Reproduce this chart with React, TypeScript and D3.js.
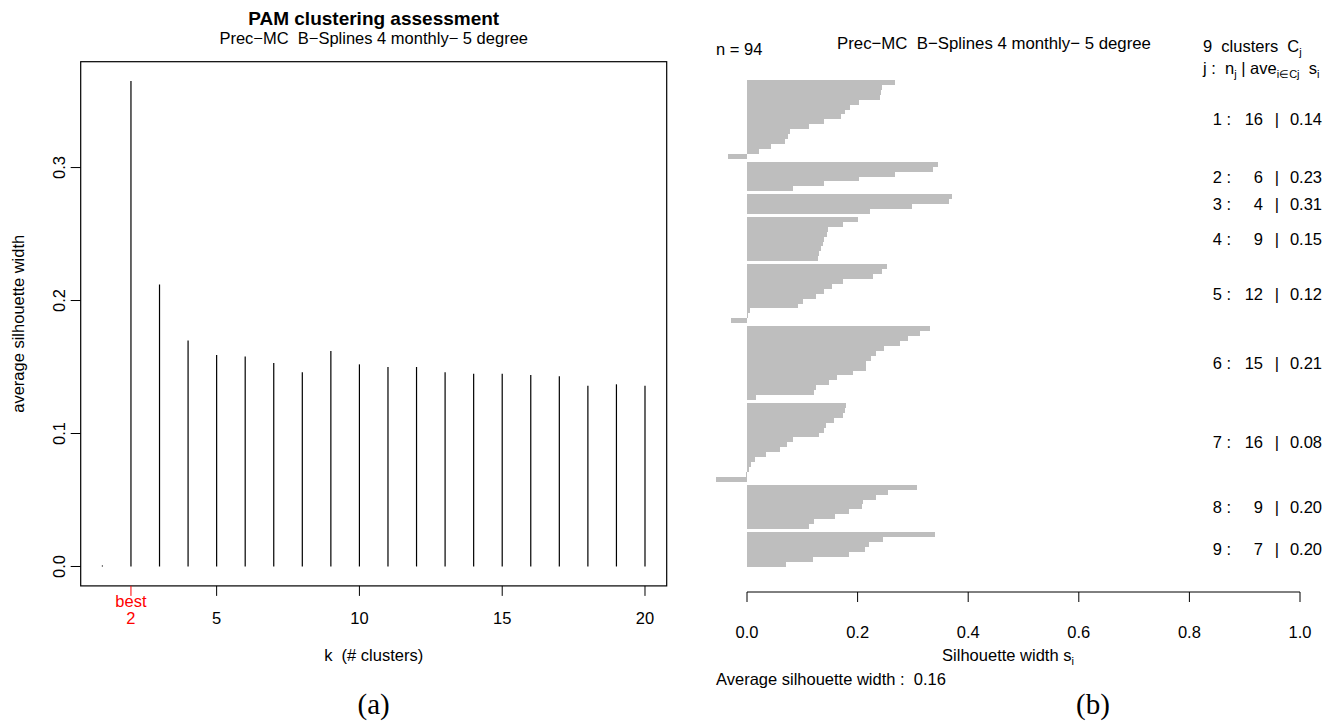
import * as d3 from 'd3';
import React, { useRef, useEffect } from 'react';

// left panel: average silhouette width for k = 1..20
const ks = [1, 2, 3, 4, 5, 6, 7, 8, 9, 10, 11, 12, 13, 14, 15, 16, 17, 18, 19, 20];
const avgWidth = [0, 0.365, 0.212, 0.170, 0.159, 0.158, 0.153, 0.146, 0.162, 0.152,
  0.150, 0.150, 0.146, 0.145, 0.145, 0.144, 0.143, 0.136, 0.137, 0.136];
const bestK = 2;
const kTicks = [5, 10, 15, 20];
const avgTicks = [0, 0.1, 0.2, 0.3];

// right panel: silhouette widths per cluster (sorted, as drawn top to bottom)
const cluster1 = [0.268, 0.244, 0.242, 0.240, 0.202, 0.186, 0.178, 0.170, 0.139, 0.112, 0.078, 0.075, 0.069, 0.043, 0.021, -0.034];
const cluster2 = [0.345, 0.336, 0.267, 0.202, 0.140, 0.084];
const cluster3 = [0.371, 0.365, 0.298, 0.222];
const cluster4 = [0.200, 0.173, 0.146, 0.144, 0.140, 0.137, 0.133, 0.130, 0.129];
const cluster5 = [0.253, 0.245, 0.227, 0.173, 0.154, 0.139, 0.124, 0.101, 0.093, 0.005, 0.002, -0.029];
const cluster6 = [0.331, 0.313, 0.291, 0.277, 0.248, 0.234, 0.224, 0.216, 0.216, 0.192, 0.163, 0.149, 0.124, 0.121, 0.016];
const cluster7 = [0.179, 0.177, 0.173, 0.157, 0.142, 0.139, 0.130, 0.083, 0.072, 0.060, 0.034, 0.015, 0.007, 0.003, -0.002, -0.056];
const cluster8 = [0.307, 0.255, 0.233, 0.209, 0.208, 0.184, 0.159, 0.121, 0.112];
const cluster9 = [0.340, 0.246, 0.221, 0.213, 0.184, 0.119, 0.071];
const silTicks = [0, 0.2, 0.4, 0.6, 0.8, 1.0];

const subtitle = 'Prec\u2212MC  B\u2212Splines 4 monthly\u2212 5 degree';
const FONT = '"Liberation Sans", Arial, Helvetica, sans-serif';
const SERIF = '"Liberation Serif", "Times New Roman", serif';

function App() {
  const ref = useRef(null);

  useEffect(() => {
    document.body.style.margin = '0';
    draw();
  }, []);

  const draw = () => {
    const svg = d3.select(ref.current);
    svg.selectAll('*').remove();
    const fs = 16.5;

    // ---------- (a) ----------
    const x = d3.scaleLinear().domain([0.24, 20.76]).range([80.7, 666.7]);
    const y = d3.scaleLinear().domain([-0.0146, 0.3796]).range([585.9, 61.7]);
    const left = svg.append('g');

    left.append('rect')
      .attr('x', x.range()[0]).attr('y', y.range()[1])
      .attr('width', x.range()[1] - x.range()[0])
      .attr('height', y.range()[0] - y.range()[1])
      .attr('fill', 'none').attr('stroke', '#000').attr('stroke-width', 1.2);

    left.selectAll('.h')
      .data(ks)
      .enter()
      .append('line')
      .attr('x1', (d) => x(d)).attr('x2', (d) => x(d))
      .attr('y1', y(0))
      .attr('y2', (d, i) => avgWidth[i] === 0 ? y(0) - 1 : y(avgWidth[i]))
      .attr('stroke', '#000').attr('stroke-width', 1.2);

    // y axis
    avgTicks.forEach((t) => {
      left.append('line').attr('x1', x.range()[0]).attr('x2', x.range()[0] - 10)
        .attr('y1', y(t)).attr('y2', y(t)).attr('stroke', '#000');
      left.append('text').attr('transform', `translate(65, ${y(t)}) rotate(-90)`)
        .attr('text-anchor', 'middle').attr('font-size', fs).text(d3.format('.1f')(t));
    });
    left.append('text').attr('transform', `translate(24, ${(y.range()[0] + y.range()[1]) / 2}) rotate(-90)`)
      .attr('text-anchor', 'middle').attr('font-size', fs).text('average silhouette width');

    // x axis
    kTicks.forEach((t) => {
      left.append('line').attr('x1', x(t)).attr('x2', x(t))
        .attr('y1', y.range()[0]).attr('y2', y.range()[0] + 10).attr('stroke', '#000');
      left.append('text').attr('x', x(t)).attr('y', 624)
        .attr('text-anchor', 'middle').attr('font-size', fs).text(t);
    });
    left.append('line').attr('x1', x(bestK)).attr('x2', x(bestK))
      .attr('y1', y.range()[0]).attr('y2', y.range()[0] + 10).attr('stroke', '#ff0000');
    left.append('text').attr('x', x(bestK)).attr('y', 607)
      .attr('text-anchor', 'middle').attr('font-size', fs).attr('fill', '#ff0000').text('best');
    left.append('text').attr('x', x(bestK)).attr('y', 624)
      .attr('text-anchor', 'middle').attr('font-size', fs).attr('fill', '#ff0000').text(bestK);

    const cx = (x.range()[0] + x.range()[1]) / 2;
    left.append('text').attr('x', cx).attr('y', 661).attr('text-anchor', 'middle')
      .attr('font-size', fs).style('white-space', 'pre').text('k  (# clusters)');
    left.append('text').attr('x', cx).attr('y', 25).attr('text-anchor', 'middle')
      .attr('font-size', 19).attr('font-weight', 'bold').text('PAM clustering assessment');
    left.append('text').attr('x', cx).attr('y', 44).attr('text-anchor', 'middle')
      .attr('font-size', fs).style('white-space', 'pre').text(subtitle);
    left.append('text').attr('x', cx).attr('y', 714).attr('text-anchor', 'middle')
      .attr('font-family', SERIF).attr('font-size', 29).text('(a)');

    // ---------- (b) ----------
    const clusters = [cluster1, cluster2, cluster3, cluster4, cluster5, cluster6, cluster7, cluster8, cluster9];
    const gap = 0.6;
    const rows = [];
    const groups = [];
    let pos = 0;
    clusters.forEach((c, j) => {
      if (j > 0) pos += gap;
      const start = pos;
      c.forEach((v) => { rows.push({ v, pos }); pos += 1; });
      groups.push({ j: j + 1, n: c.length, ave: d3.mean(c), mid: (start + pos) / 2 });
    });
    const total = pos;
    const all = clusters.flat();

    const xs = d3.scaleLinear().domain([0, 1]).range([747, 1300]);
    const ys = d3.scaleLinear().domain([0, total]).range([80, 566.5]);
    const right = svg.append('g');

    right.append('g').attr('shape-rendering', 'crispEdges')
      .selectAll('rect')
      .data(rows)
      .enter()
      .append('rect')
      .attr('x', (d) => xs(Math.min(0, d.v)))
      .attr('y', (d) => ys(d.pos))
      .attr('width', (d) => Math.max(1, Math.abs(xs(d.v) - xs(0))))
      .attr('height', ys(1) - ys(0))
      .attr('fill', '#bebebe');

    right.append('line').attr('x1', xs(0)).attr('x2', xs(1)).attr('y1', 592).attr('y2', 592).attr('stroke', '#000');
    silTicks.forEach((t) => {
      right.append('line').attr('x1', xs(t)).attr('x2', xs(t)).attr('y1', 592).attr('y2', 602).attr('stroke', '#000');
      right.append('text').attr('x', xs(t)).attr('y', 638).attr('text-anchor', 'middle')
        .attr('font-size', fs).text(d3.format('.1f')(t));
    });

    const xl = right.append('text').attr('x', 1008).attr('y', 661).attr('text-anchor', 'middle').attr('font-size', fs);
    xl.append('tspan').text('Silhouette width s');
    xl.append('tspan').attr('font-size', 11).attr('dy', 4).text('i');

    right.append('text').attr('x', 716).attr('y', 685).attr('font-size', fs).style('white-space', 'pre')
      .text('Average silhouette width :  ' + d3.format('.2f')(d3.mean(all)));
    right.append('text').attr('x', 716).attr('y', 55).attr('font-size', fs).text('n = ' + all.length);
    right.append('text').attr('x', 994).attr('y', 49).attr('text-anchor', 'middle')
      .attr('font-size', 16.8).style('white-space', 'pre').text(subtitle);

    const h1 = right.append('text').attr('x', 1203).attr('y', 52).attr('font-size', fs).style('white-space', 'pre');
    h1.append('tspan').text(clusters.length + '  clusters  C');
    h1.append('tspan').attr('font-size', 11).attr('dy', 4).text('j');

    const h2 = right.append('text').attr('x', 1203).attr('y', 74).attr('font-size', fs).style('white-space', 'pre');
    h2.append('tspan').text('j :  n');
    h2.append('tspan').attr('font-size', 11).attr('dy', 4).text('j');
    h2.append('tspan').attr('dy', -4).text(' | ave');
    h2.append('tspan').attr('font-size', 11).attr('dy', 4).text('i\u2208Cj');
    h2.append('tspan').attr('dy', -4).text('  s');
    h2.append('tspan').attr('font-size', 11).attr('dy', 4).text('i');

    // cluster labels: "j :  n  | ave"
    const lab = right.selectAll('.lab')
      .data(groups)
      .enter()
      .append('g')
      .attr('transform', (d) => `translate(0, ${ys(d.mid) + 6})`)
      .attr('font-size', fs);
    lab.append('text').attr('x', 1231).attr('text-anchor', 'end').text((d) => `${d.j} :`);
    lab.append('text').attr('x', 1263).attr('text-anchor', 'end').text((d) => d.n);
    lab.append('text').attr('x', 1277).attr('text-anchor', 'middle').text('|');
    lab.append('text').attr('x', 1322).attr('text-anchor', 'end').text((d) => d3.format('.2f')(d.ave));

    right.append('text').attr('x', 1093).attr('y', 714).attr('text-anchor', 'middle')
      .attr('font-family', SERIF).attr('font-size', 29).text('(b)');
  };

  return (
    <svg ref={ref} width={1336} height={723}
      style={{ position: 'absolute', left: 0, top: 0, background: '#fff', fontFamily: FONT }}>
    </svg>
  );
}

export default App;
